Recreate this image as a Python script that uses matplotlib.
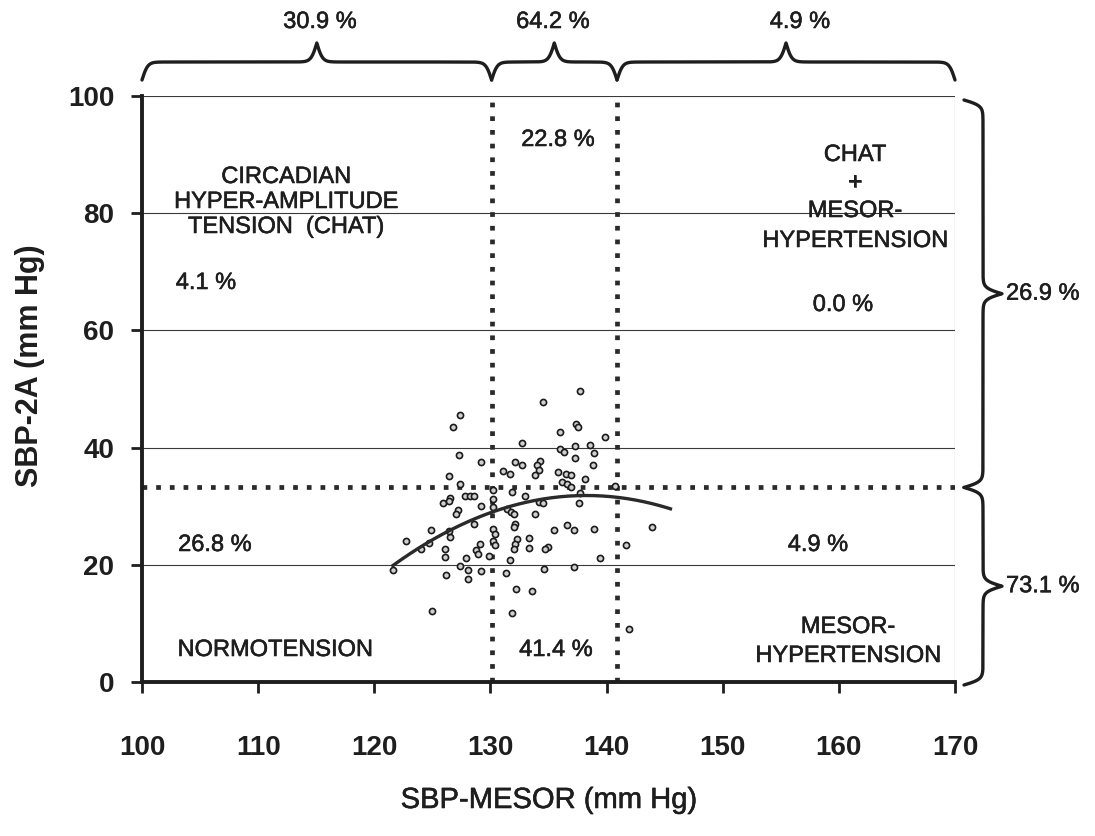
import numpy as np
import matplotlib
matplotlib.use("Agg")
import matplotlib.pyplot as plt
import matplotlib.patheffects as pe

plt.rcParams["font.family"] = ["Liberation Sans", "DejaVu Sans"]

# Individual subjects: SBP MESOR vs SBP double amplitude (mm Hg)
sbp_mesor = [
    137.7, 134.5, 127.4, 126.8, 137.4, 137.5, 136.0, 139.9, 132.7, 137.3,
    138.6, 136.0, 136.3, 127.3, 137.3, 138.9, 129.2, 132.1, 132.7, 134.3,
    134.0, 138.8, 134.2, 131.1, 131.7, 133.8, 135.8, 136.5, 136.9, 126.4,
    136.2, 136.6, 136.9, 138.1, 140.7, 127.4, 131.9, 127.8, 128.2, 128.6,
    130.2, 133.0, 137.7, 126.5, 125.9, 126.4, 129.2, 130.2, 134.2, 134.5,
    137.6, 130.2, 131.4, 131.8, 132.0, 127.2, 127.0, 133.8, 128.6, 132.1,
    132.0, 136.6, 137.2, 135.5, 138.9, 143.9, 124.9, 130.2, 130.4, 126.5,
    126.4, 122.7, 124.7, 124.0, 133.3, 132.3, 130.2, 130.4, 132.1, 132.0,
    133.3, 135.0, 134.7, 129.1, 128.8, 128.9, 141.7, 126.1, 126.1, 127.9,
    129.9, 131.7, 139.4, 121.6, 127.4, 128.1, 129.2, 131.3, 134.6, 137.2,
    126.2, 128.1, 132.2, 133.6, 125.0, 131.9, 141.9,
]
sbp_2a = [
    49.6, 47.8, 45.6, 43.5, 44.1, 43.5, 42.6, 41.8, 40.7, 40.2,
    40.4, 39.7, 39.3, 38.7, 38.3, 39.0, 37.5, 37.5, 37.1, 37.7,
    37.0, 37.1, 36.2, 36.0, 35.5, 35.4, 35.8, 35.5, 35.3, 35.1,
    34.2, 33.8, 33.3, 34.7, 33.5, 33.8, 32.4, 31.8, 31.8, 31.8,
    32.7, 31.8, 32.2, 31.4, 30.5, 30.9, 30.1, 31.2, 30.7, 30.5,
    30.5, 29.8, 29.5, 29.0, 28.6, 29.3, 28.6, 28.7, 27.0, 27.0,
    26.4, 26.8, 26.0, 26.0, 26.1, 26.4, 25.9, 26.1, 25.3, 24.7,
    25.8, 24.1, 23.8, 22.7, 24.5, 24.4, 24.1, 23.3, 23.5, 22.7,
    22.9, 23.1, 22.7, 23.5, 22.5, 21.9, 23.4, 22.7, 21.3, 21.1,
    21.5, 20.8, 21.1, 19.1, 19.8, 19.1, 19.0, 18.6, 19.3, 19.7,
    18.2, 17.5, 15.8, 15.5, 12.1, 11.7, 9.1,
]

# Classification thresholds
mesor_limits = [130.1, 140.9]
amp_limit = 33.2

# Percentages per column (top), per row (right) and per cell
col_pct = ["30.9 %", "64.2 %", "4.9 %"]
row_pct = ["26.9 %", "73.1 %"]
cell_pct = {"chat": "4.1 %", "chat_mid": "22.8 %", "chat_mh": "0.0 %",
            "normo": "26.8 %", "normo_mid": "41.4 %", "mh": "4.9 %"}

x_ticks = [100, 110, 120, 130, 140, 150, 160, 170]
y_ticks = [0, 20, 40, 60, 80, 100]

W, H, DPI = 1095, 836, 100
fig = plt.figure(figsize=(W / DPI, H / DPI), dpi=DPI)
ax_l, ax_r, ax_t, ax_b = 142, 955, 96, 682
ax = fig.add_axes([ax_l / W, (H - ax_b) / H, (ax_r - ax_l) / W, (ax_b - ax_t) / H])
ax.set_xlim(100, 170)
ax.set_ylim(0, 100)

ink = "#1e1e1e"
heavy = [pe.withStroke(linewidth=0.4, foreground=ink)]

# horizontal reference lines
for yv in [20, 40, 60, 80, 100]:
    ax.axhline(yv, color="#3a3a3a", lw=0.8, zorder=1)
ax.axvline(170, color="#3a3a3a", lw=0.8, zorder=1)

# threshold lines
dots = dict(ls=(0, (1, 1.9)), lw=3.4, color="#2a2a2a", dash_capstyle="butt", zorder=2)
for xv in mesor_limits:
    ax.plot([xv, xv], [0, 100], **dots)
ax.plot([100, 170], [amp_limit, amp_limit], **dots)

# subjects
ax.plot(sbp_mesor, sbp_2a, ls="none", marker="o", ms=4.4, mew=1.2,
        mec="#1a1a1a", mfc="#d0d0d0", zorder=3)

# quadratic fit
coef = np.polyfit(sbp_mesor, sbp_2a, 2)
xf = np.linspace(min(sbp_mesor), 145.5, 200)
ax.plot(xf, np.polyval(coef, xf), color="#2a2a2a", lw=2.4, zorder=4)

# axes styling
for s in ["top", "right"]:
    ax.spines[s].set_visible(False)
for s in ["left", "bottom"]:
    ax.spines[s].set_linewidth(2.8)
    ax.spines[s].set_color(ink)
ax.set_xticks(x_ticks)
ax.set_yticks(y_ticks)
ax.tick_params(axis="both", direction="out", length=8, width=2, color=ink,
               labelsize=20, labelcolor=ink)
ax.tick_params(axis="y", pad=12)
ax.tick_params(axis="x", pad=30)
for lab in ax.get_xticklabels() + ax.get_yticklabels():
    lab.set_fontweight("bold")

ax.set_xlabel("SBP-MESOR (mm Hg)", fontsize=21, color=ink, va="center",
              path_effects=heavy)
ax.xaxis.set_label_coords(0.5, (ax_b - 800) / (ax_b - ax_t))
ax.set_ylabel("SBP-2A (mm Hg)", fontsize=22, color=ink, fontweight="bold", va="center")
ax.yaxis.set_label_coords((30 - ax_l) / (ax_r - ax_l), 0.54)


def px_to_data(px, py):
    """Image pixel (origin top-left) to data coordinates."""
    disp = np.column_stack([np.atleast_1d(px), H - np.atleast_1d(py)])
    return ax.transData.inverted().transform(disp)


def data_to_px(x, y):
    d = ax.transData.transform(np.column_stack([np.atleast_1d(x), np.atleast_1d(y)]))
    return d[:, 0], H - d[:, 1]


def brace(p0, p1, normal, flat, tip, beta=0.35):
    """Curly brace between two image-pixel points, bulging along `normal`."""
    p0 = np.asarray(p0, float)
    p1 = np.asarray(p1, float)
    L = np.hypot(*(p1 - p0))
    u = (p1 - p0) / L
    nrm = np.asarray(normal, float)
    t = np.linspace(0, L / 2, 300)
    v = 1 / (1 + np.exp(-beta * t)) + 1 / (1 + np.exp(-beta * (t - L / 2)))
    off = np.where(v < 1, (v - 0.5) / 0.5 * flat, flat + (v - 1) / 0.5 * (tip - flat))
    s = np.concatenate([t, L - t[::-1]])
    o = np.concatenate([off, off[::-1]])
    pts = p0[None, :] + s[:, None] * u[None, :] + o[:, None] * nrm[None, :]
    d = px_to_data(pts[:, 0], pts[:, 1])
    ax.plot(d[:, 0], d[:, 1], color=ink, lw=2.4, clip_on=False,
            solid_capstyle="round", zorder=5)


txt_kw = dict(fontsize=17, color=ink, va="center", clip_on=False,
              path_effects=heavy, zorder=6)

# column braces above the plot
col_edges = [100] + mesor_limits + [170]
ex, _ = data_to_px(col_edges, [0] * len(col_edges))
base_y = 80
for i in range(3):
    brace((ex[i], base_y), (ex[i + 1], base_y), (0, -1), 18, 37)
col_label_px = [320, 553, 800]
for lbl, cx in zip(col_pct, col_label_px):
    d = px_to_data(cx, 22)[0]
    ax.text(d[0], d[1], lbl, ha="center", **txt_kw)

# row braces on the right
_, ey = data_to_px([170, 170, 170], [100, amp_limit, 0])
ey = [ey[0] + 4, ey[1], ey[2] + 3]
base_x = 964
for i in range(2):
    brace((base_x, ey[i]), (base_x, ey[i + 1]), (1, 0), 19, 38)
    ymid = (ey[i] + ey[i + 1]) / 2
    d = px_to_data(1006, ymid)[0]
    ax.text(d[0], d[1], row_pct[i], ha="left", **txt_kw)

# region labels
for txt, (px, py) in [
    ("CIRCADIAN", (286, 177)),
    ("HYPER-AMPLITUDE", (286, 202)),
    ("TENSION  (CHAT)", (286, 227)),
    (cell_pct["chat"], (206, 283)),
    (cell_pct["chat_mid"], (558, 140)),
    ("CHAT", (855, 155)),
    ("+", (855, 183)),
    ("MESOR-", (855, 211)),
    ("HYPERTENSION", (855, 241)),
    (cell_pct["chat_mh"], (843, 305)),
    (cell_pct["normo"], (215, 545)),
    (cell_pct["mh"], (818, 545)),
    ("NORMOTENSION", (275, 650)),
    (cell_pct["normo_mid"], (556, 650)),
    ("MESOR-", (848, 627)),
    ("HYPERTENSION", (848, 656)),
]:
    d = px_to_data(px, py)[0]
    ax.text(d[0], d[1], txt, ha="center", **txt_kw)

fig.savefig("out.png", dpi=DPI)
